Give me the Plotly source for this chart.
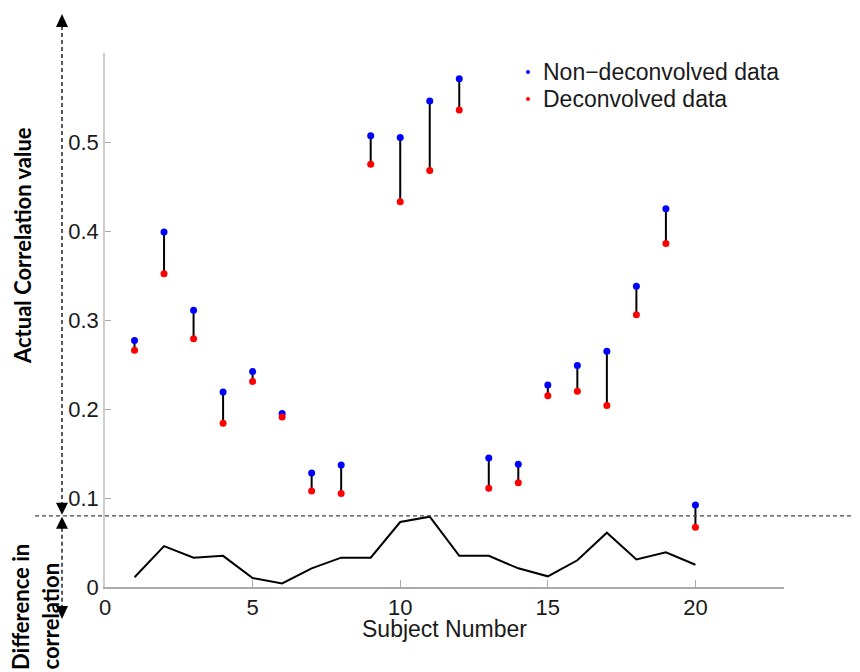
import plotly.graph_objects as go

# ---------------- data ----------------
subjects = list(range(1, 21))
non_deconvolved = [0.277, 0.399, 0.311, 0.219, 0.242, 0.195, 0.128, 0.137, 0.507, 0.505,
                   0.546, 0.571, 0.145, 0.138, 0.227, 0.249, 0.265, 0.338, 0.425, 0.092]
deconvolved = [0.266, 0.352, 0.279, 0.184, 0.231, 0.191, 0.108, 0.105, 0.475, 0.433,
               0.468, 0.536, 0.111, 0.117, 0.215, 0.220, 0.204, 0.306, 0.386, 0.067]
difference = [0.011, 0.046, 0.033, 0.035, 0.010, 0.004, 0.021, 0.033, 0.033, 0.073,
              0.079, 0.035, 0.035, 0.021, 0.012, 0.030, 0.061, 0.031, 0.039, 0.025]
series_names = ["Non\u2212deconvolved data", "Deconvolved data"]
series_colors = ["rgb(0,0,255)", "rgb(255,0,0)"]
x_ticks = [0, 5, 10, 15, 20]
y_ticks = [0, 0.1, 0.2, 0.3, 0.4, 0.5]
y_tick_text = ["0", "0.1", "0.2", "0.3", "0.4", "0.5"]
threshold = 0.08
x_max = 23
y_max = 0.6

# ---------------- layout geometry ----------------
# The page body has an 8px default margin, so the figure is drawn 8px smaller
# and all positions below are given in page pixels.
PAGE_W, PAGE_H = 860, 672
OFF = 8
FIG_W, FIG_H = PAGE_W - OFF, PAGE_H - OFF
PLOT_L, PLOT_R, PLOT_T, PLOT_B = 105, 784, 53, 587   # page pixels
L = PLOT_L - OFF
T = PLOT_T - OFF
W = PLOT_R - PLOT_L
H = PLOT_B - PLOT_T
R = FIG_W - L - W
B = FIG_H - T - H


def px_x(p):
    return (p - PLOT_L) / W


def px_y(p):
    return (PLOT_B - p) / H


fig = go.Figure()

# vertical connectors between the two values
seg_x, seg_y = [], []
for s, a, b in zip(subjects, non_deconvolved, deconvolved):
    seg_x += [s, s, None]
    seg_y += [a, b, None]
fig.add_trace(go.Scatter(x=seg_x, y=seg_y, mode="lines",
                         line=dict(color="black", width=2),
                         showlegend=False, hoverinfo="skip"))

# difference line
fig.add_trace(go.Scatter(x=subjects, y=difference, mode="lines",
                         line=dict(color="black", width=2), showlegend=False))

# markers
fig.add_trace(go.Scatter(x=subjects, y=non_deconvolved, mode="markers",
                         marker=dict(color=series_colors[0], size=7),
                         name=series_names[0], showlegend=False))
fig.add_trace(go.Scatter(x=subjects, y=deconvolved, mode="markers",
                         marker=dict(color=series_colors[1], size=7),
                         name=series_names[1], showlegend=False))

# ---------------- shapes (dashed guide + arrows) ----------------
dash_style = "4px,3px"
thr_paper = threshold / y_max
thr_px = PLOT_B - thr_paper * H
ax_px = 62

shapes = [
    dict(type="line", xref="paper", yref="paper",
         x0=px_x(35), x1=px_x(PAGE_W), y0=thr_paper, y1=thr_paper,
         line=dict(color="#444444", width=1.2, dash=dash_style)),
    dict(type="line", xref="paper", yref="paper",
         x0=px_x(ax_px), x1=px_x(ax_px), y0=px_y(26), y1=px_y(thr_px - 12),
         line=dict(color="black", width=1.3, dash=dash_style)),
    dict(type="line", xref="paper", yref="paper",
         x0=px_x(ax_px), x1=px_x(ax_px), y0=px_y(thr_px + 12), y1=px_y(607),
         line=dict(color="black", width=1.3, dash=dash_style)),
]


def tri(tip_y, base_y):
    hw = 6
    return dict(type="path", xref="paper", yref="paper",
                path=(f"M {px_x(ax_px)} {px_y(tip_y)} "
                      f"L {px_x(ax_px - hw)} {px_y(base_y)} "
                      f"L {px_x(ax_px + hw)} {px_y(base_y)} Z"),
                fillcolor="black", line=dict(color="black", width=0))


shapes += [
    tri(14, 27),
    tri(thr_px - 1, thr_px - 13),
    tri(thr_px + 1, thr_px + 13),
    tri(619, 606),
]

# legend (drawn by hand to match the tight MATLAB spacing)
legend_rows = [72, 99]
for row_y, color in zip(legend_rows, series_colors):
    r = 2
    shapes.append(dict(type="circle", xref="paper", yref="paper",
                       x0=px_x(528 - r), x1=px_x(528 + r),
                       y0=px_y(row_y + r), y1=px_y(row_y - r),
                       fillcolor=color, line=dict(color=color, width=0)))

# ---------------- annotations ----------------
label_font = dict(family="Lato", size=22, color="black", weight="bold")
text_font = dict(family="Liberation Sans", size=23, color="#1a1a1a")
annotations = [
    dict(text="Actual Correlation value", xref="paper", yref="paper",
         x=px_x(22), y=px_y(246), textangle=-90, showarrow=False,
         xanchor="center", yanchor="middle", font=label_font),
    dict(text="Difference in", xref="paper", yref="paper",
         x=px_x(20), y=px_y(PAGE_H), textangle=-90, showarrow=False,
         xanchor="center", yanchor="bottom", font=label_font),
    dict(text="correlation", xref="paper", yref="paper",
         x=px_x(50), y=px_y(PAGE_H), textangle=-90, showarrow=False,
         xanchor="center", yanchor="bottom", font=label_font),
    dict(text="Subject Number", xref="paper", yref="paper",
         x=0.5, y=px_y(629), showarrow=False, xanchor="center", yanchor="middle",
         font=text_font),
]
for row_y, name in zip(legend_rows, series_names):
    annotations.append(dict(text=name, xref="paper", yref="paper",
                            x=px_x(541), y=px_y(row_y), showarrow=False,
                            xanchor="left", yanchor="middle", font=text_font))

tick_font = dict(family="Liberation Sans", size=22, color="#1a1a1a")

fig.update_layout(
    width=FIG_W, height=FIG_H,
    margin=dict(l=L, r=R, t=T, b=B, pad=0),
    paper_bgcolor="white", plot_bgcolor="white",
    shapes=shapes, annotations=annotations,
    showlegend=False,
    xaxis=dict(range=[0, x_max], tickvals=x_ticks, ticks="inside", ticklen=7,
               tickcolor="#aaaaaa", showline=True, linecolor="#aaaaaa", linewidth=2,
               showgrid=False, zeroline=False, tickfont=tick_font),
    yaxis=dict(range=[0, y_max], tickvals=y_ticks, ticktext=y_tick_text,
               ticks="inside", ticklen=6, tickcolor="#aaaaaa",
               showline=True, linecolor="#cccccc", linewidth=1.5,
               showgrid=False, zeroline=False, tickfont=tick_font),
)

fig.write_html("out.html")
